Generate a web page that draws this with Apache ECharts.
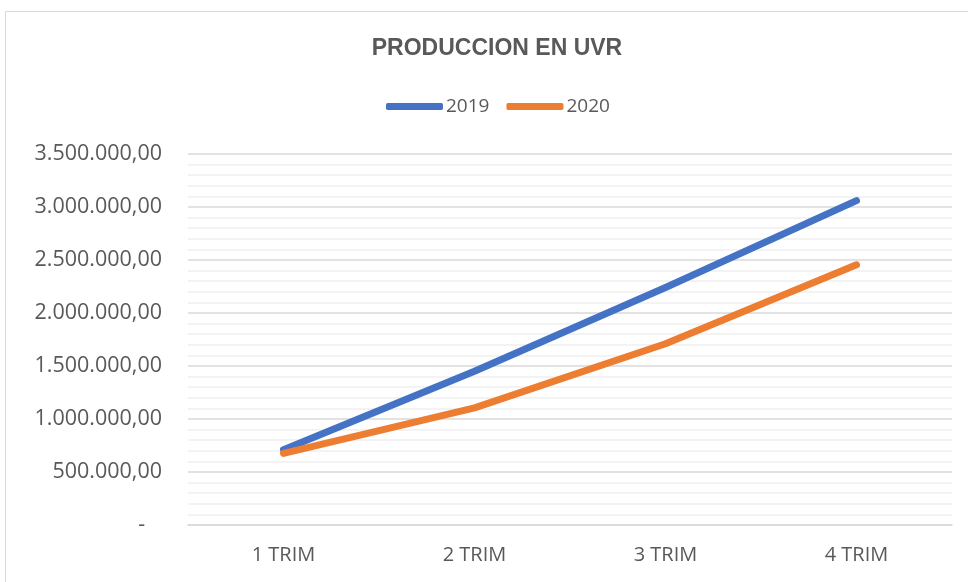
<!DOCTYPE html>
<html>
<head>
<meta charset="utf-8">
<script src="https://cdn.jsdelivr.net/npm/echarts@6/dist/echarts.min.js"></script>
<style>
html,body{margin:0;padding:0;background:#fff;}
#c{width:968px;height:582px;}
</style>
</head>
<body>
<div id="c"></div>
<script>
const categories = ['1 TRIM', '2 TRIM', '3 TRIM', '4 TRIM'];
const seriesNames = ['2019', '2020'];
const values2019 = [710000, 1450000, 2240000, 3060000];
const values2020 = [675000, 1105000, 1710000, 2455000];
const yTicks = [0, 500000, 1000000, 1500000, 2000000, 2500000, 3000000, 3500000];
const titleText = 'PRODUCCION EN UVR';

function fmt(v) {
  if (v === 0) return '-   ';
  const s = Math.round(v).toString().replace(/\B(?=(\d{3})+(?!\d))/g, '.');
  return s + ',00';
}

const chart = echarts.init(document.getElementById('c'), null, {renderer: 'canvas'});
const labelFont = '"Open Sans", "Noto Sans", sans-serif';
chart.setOption({
  animation: false,
  backgroundColor: '#fff',
  graphic: [{
    type: 'rect', silent: true, z: -10,
    shape: {x: 5.5, y: 11.5, width: 1200, height: 1200},
    style: {fill: 'none', stroke: '#d9d9d9', lineWidth: 1}
  }],
  title: {
    text: titleText,
    left: 492, top: 32, textAlign: 'center',
    textStyle: {fontFamily: '"Liberation Sans Narrow", "Liberation Sans", sans-serif', fontWeight: 'bold', fontSize: 23, color: '#595959'}
  },
  legend: {
    data: seriesNames,
    left: 381, top: 92,
    itemWidth: 57, itemHeight: 7, itemGap: 17,
    icon: 'roundRect',
    textStyle: {fontFamily: labelFont, fontSize: 19, color: '#595959', padding: [0, 0, 0, -2]}
  },
  grid: {left: 188, right: 16, top: 154, bottom: 57, containLabel: false},
  xAxis: {
    type: 'category', data: categories, boundaryGap: true,
    axisLine: {lineStyle: {color: '#d9d9d9', width: 1.5}},
    axisTick: {show: false},
    axisLabel: {fontFamily: labelFont, fontSize: 20, color: '#595959', margin: 20}
  },
  yAxis: {
    type: 'value', min: 0, max: 3500000, interval: 500000,
    axisLine: {show: false}, axisTick: {show: false},
    axisLabel: {fontFamily: labelFont, fontSize: 21.5, color: '#595959', margin: 26, formatter: fmt},
    splitLine: {lineStyle: {color: '#d9d9d9', width: 1.5}},
    minorTick: {show: false, splitNumber: 5},
    minorSplitLine: {show: true, lineStyle: {color: '#f0f0f0', width: 1.5}}
  },
  series: [
    {name: seriesNames[0], type: 'line', data: values2019, symbol: 'none',
     color: '#4472C4', lineStyle: {width: 7, cap: 'round', join: 'round'}},
    {name: seriesNames[1], type: 'line', data: values2020, symbol: 'none',
     color: '#ED7D31', lineStyle: {width: 7, cap: 'round', join: 'round'}}
  ]
});
</script>
</body>
</html>
